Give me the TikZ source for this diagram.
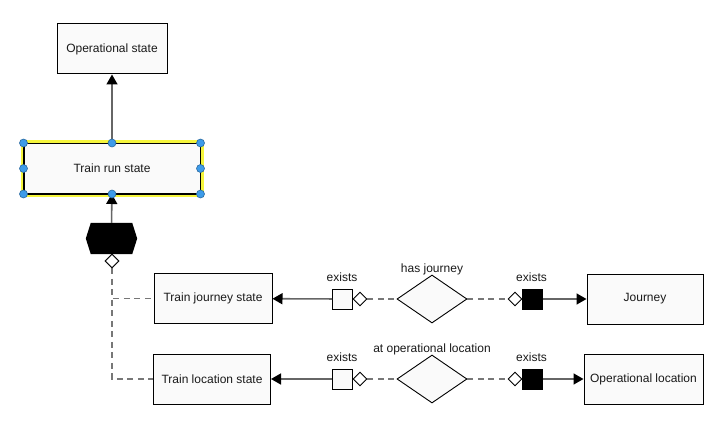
\documentclass[tikz,border=0pt]{standalone}
\usepackage{fontspec}
\setmainfont{Liberation Sans}
\usetikzlibrary{arrows.meta,shapes.geometric}
\definecolor{boxfill}{HTML}{FAFAFA}
\definecolor{lineg}{HTML}{666666}
\definecolor{dashg}{HTML}{777777}
\definecolor{selyel}{HTML}{F5F53C}
\definecolor{dotblue}{HTML}{3D9BE9}
\definecolor{dotedge}{HTML}{2A6AA0}
\tikzset{
  lbl/.style={font=\fontsize{12}{14}\selectfont, text=black!90, inner sep=0pt},
  box/.style={draw=black, fill=boxfill, line width=1pt, inner sep=0pt, minimum height=50pt, lbl},
  sqw/.style={draw=black, fill=boxfill, line width=0.9pt, minimum size=20pt, inner sep=0pt},
  sqb/.style={draw=black, fill=black, line width=0.9pt, minimum size=20pt, inner sep=0pt},
  sdia/.style={diamond, draw=black, fill=white, line width=0.9pt, minimum width=14pt, minimum height=14pt, inner sep=0pt},
  bdia/.style={diamond, draw=black, fill=boxfill, line width=0.9pt, minimum width=70pt, minimum height=48pt, inner sep=0pt},
  conn/.style={draw=lineg, line width=1.6pt, -{Triangle[width=11pt,length=10pt,color=black]}},
  dsh/.style={draw=dashg, line width=1.6pt, dash pattern=on 6pt off 4.5pt},
  seldot/.style={circle, fill=dotblue, draw=dotedge, line width=0.6pt, minimum size=8pt, inner sep=0pt},
}
\begin{document}
\begin{tikzpicture}[x=1pt,y=-1pt]
\useasboundingbox (0,0) rectangle (726,428);

% main nodes
\node[box, minimum width=110pt] (opst) at (112,49) {Operational state};
\node[box, minimum width=176pt] (trs) at (112,168.5) {Train run state};
\node[box, minimum width=118pt] (tjs) at (213,298.5) {Train journey state};
\node[box, minimum width=117pt] (tls) at (212,379) {Train location state};
\node[box, minimum width=116pt] (jour) at (645,299) {Journey};
\node[box, minimum width=119pt] (opl) at (643.5,379) {Operational location};

% hexagon
\node[minimum width=51pt, minimum height=31pt, inner sep=0pt] (hx) at (111.5,238.5) {};
\fill[black] (hx.west) -- ([xshift=5pt]hx.north west) -- ([xshift=-5pt]hx.north east)
  -- (hx.east) -- ([xshift=-5pt]hx.south east) -- ([xshift=5pt]hx.south west) -- cycle;
\node[sdia] (dm) at (112,261) {};

% row 1
\node[sqw] (sqa) at (342.5,299) {};
\node[sdia] (dia) at (360,299) {};
\node[bdia] (rela) at (432,299) {};
\node[sdia] (dib) at (515,299) {};
\node[sqb] (sqb1) at (532.5,299) {};
\node[lbl] (exa) at (342,277) {exists};
\node[lbl] (hasj) at (432,269) {has journey};
\node[lbl] (exb) at (531.5,277) {exists};

% row 2
\node[sqw] (sqc) at (342.5,379) {};
\node[sdia] (dic) at (360,379) {};
\node[bdia] (relb) at (432,379) {};
\node[sdia] (did) at (515,379) {};
\node[sqb] (sqd) at (532.5,379) {};
\node[lbl] (exc) at (342,357) {exists};
\node[lbl] (atop) at (432,349) {at operational location};
\node[lbl] (exd) at (531.5,357) {exists};

% connectors
\draw[conn] (hx) -- (trs);
\draw[conn] (trs) -- (opst);
\draw[dsh] (dm.south) |- (tjs.west);
\draw[dsh] (dm.south) |- (tls.west);

\draw[conn] (sqa) -- (tjs);
\draw[dsh] (dia) -- (rela);
\draw[dsh] (rela) -- (dib);
\draw[conn] (sqb1) -- (jour);

\draw[conn] (sqc) -- (tls);
\draw[dsh] (dic) -- (relb);
\draw[dsh] (relb) -- (did);
\draw[conn] (sqd) -- (opl);

% redraw small diamonds on top of dashed lines
\node[sdia] at (dm) {};

% selection highlight
\draw[selyel, line width=3pt] ([shift={(-1.5,-1.5)}]trs.north west) rectangle ([shift={(1.5,1.5)}]trs.south east);
\draw[black, line width=1pt] (trs.north west) rectangle (trs.south east);
\foreach \a in {north west,north,north east,west,east,south west,south,south east}
  \node[seldot] at (trs.\a) {};
\end{tikzpicture}
\end{document}
